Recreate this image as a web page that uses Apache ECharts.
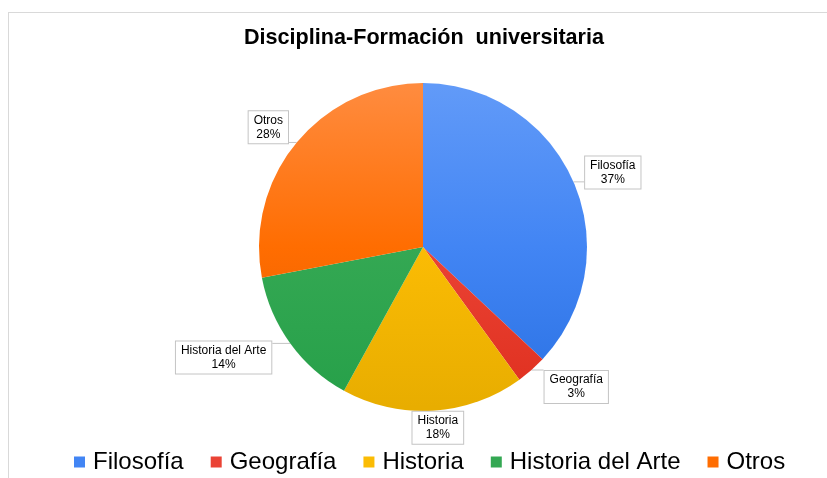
<!DOCTYPE html>
<html>
<head>
<meta charset="utf-8">
<script src="https://cdn.jsdelivr.net/npm/echarts@6/dist/echarts.min.js"></script>
<style>
  html, body { margin: 0; padding: 0; background: #fff; }
  #frame { position: absolute; left: 8px; top: 12px; width: 900px; height: 500px;
           border-left: 1px solid #d9d9d9; border-top: 1px solid #d9d9d9; }
  #chart { position: absolute; left: 0; top: 0; width: 827px; height: 478px; }
</style>
</head>
<body>
<div id="frame"></div>
<div id="chart"></div>
<script>
const titleText = 'Disciplina-Formación  universitaria';
const categories = ['Filosofía', 'Geografía', 'Historia', 'Historia del Arte', 'Otros'];
const values = [37, 3, 18, 14, 28];
const colorTop = ['#619af8', '#ef5b4c', '#fdc83c', '#4db66b', '#ff8b3e'];
const colorMid = ['#4285f4', '#ea4335', '#fbbc04', '#34a853', '#ff6d01'];
const colorBot = ['#2a71e3', '#df2f1e', '#e8ad00', '#26a049', '#e45b00'];

const chart = echarts.init(document.getElementById('chart'), null, { renderer: 'canvas' });
const FONT = 'Arial, "Liberation Sans", sans-serif';
const CX = 423, CY = 247, R = 164;

const total = values.reduce((a, b) => a + b, 0);
const midDirs = [];
let acc = 0;
values.forEach(v => {
  const a = ((acc + v / 2) / total) * Math.PI * 2; // clockwise from top
  midDirs.push([Math.sin(a), -Math.cos(a)]);
  acc += v;
});

const data = categories.map((name, i) => ({
  name: name,
  value: values[i],
  itemStyle: {
    color: new echarts.graphic.LinearGradient(0, 87, 0, 407, [
      { offset: 0, color: colorTop[i] },
      { offset: 0.5, color: colorMid[i] },
      { offset: 1, color: colorBot[i] }
    ], true)
  }
}));

function layoutLabel(params) {
  const i = params.dataIndex;
  const d = midDirs[i];
  const hw = params.labelRect.width / 2, hh = params.labelRect.height / 2;
  const ex = CX + d[0] * R, ey = CY + d[1] * R;
  const sx = Math.sign(d[0]) * Math.min(1, Math.abs(d[0]) * 2) * 1.37;
  const sy = Math.sign(d[1]) * Math.min(1, Math.abs(d[1]) * 1.4);
  const x = ex + sx * hw;
  const y = ey + sy * hh;
  const px = Math.max(x - hw, Math.min(x + hw, ex));
  const py = Math.max(y - hh, Math.min(y + hh, ey));
  return {
    x: x, y: y, align: 'center', verticalAlign: 'middle',
    labelLinePoints: [[ex, ey], [px, py], [px, py]]
  };
}

chart.setOption({
  animation: false,
  backgroundColor: 'transparent',
  color: colorMid,
  title: {
    text: titleText,
    left: 244,
    top: 27,
    padding: 0,
    textStyle: { fontFamily: FONT, fontSize: 21.6, fontWeight: 'bold', color: '#000' }
  },
  legend: {
    bottom: 4,
    left: 74,
    padding: 0,
    itemWidth: 11,
    itemHeight: 11,
    itemGap: 27,
    icon: 'rect',
    textStyle: { fontFamily: FONT, fontSize: 24, color: '#000', padding: [0, 0, 0, 3] },
    data: categories.map((n, i) => ({ name: n, itemStyle: { color: colorMid[i] } }))
  },
  series: [{
    type: 'pie',
    center: [CX, CY],
    radius: R,
    startAngle: 90,
    clockwise: true,
    percentPrecision: 0,
    data: data,
    label: {
      show: true,
      position: 'outside',
      formatter: '{c|{b}}\n{c|{d}%}',
      fontFamily: FONT,
      fontSize: 12,
      lineHeight: 14,
      color: '#000',
      backgroundColor: '#fff',
      borderColor: '#c4c4c4',
      borderWidth: 1,
      padding: [2, 5],
      rich: {
        c: { align: 'center', fontFamily: FONT, fontSize: 12, lineHeight: 14, color: '#000' }
      }
    },
    labelLine: {
      show: true,
      length: 6,
      length2: 4,
      lineStyle: { color: '#c4c4c4', width: 1 }
    },
    labelLayout: layoutLabel,
    emphasis: { disabled: true }
  }]
});
</script>
</body>
</html>
